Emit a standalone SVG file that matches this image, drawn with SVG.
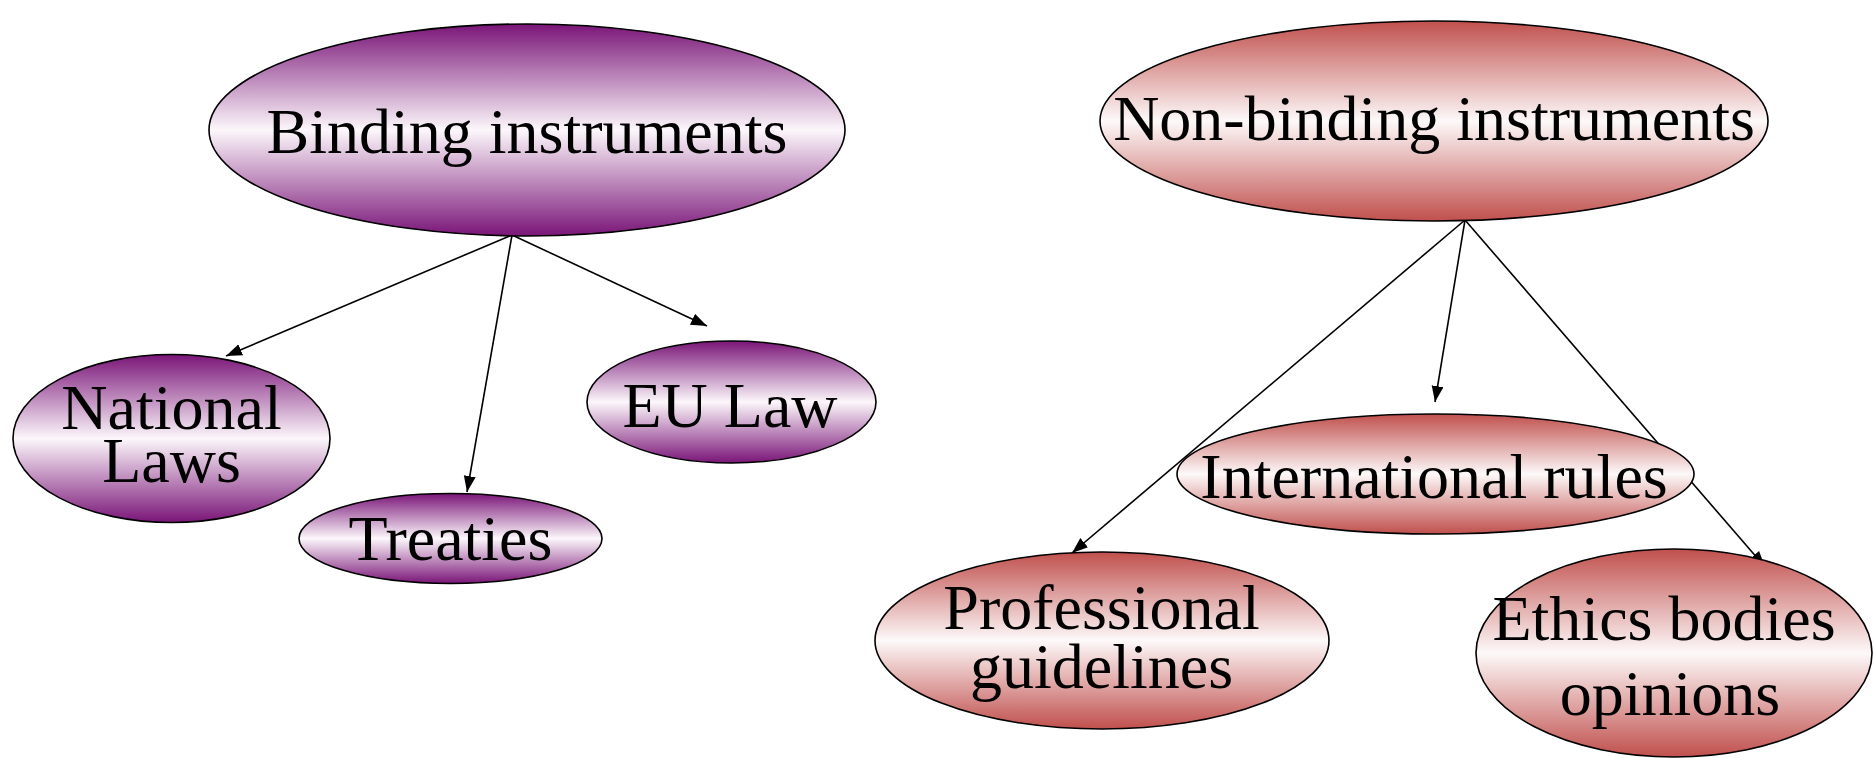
<svg xmlns="http://www.w3.org/2000/svg" width="1874" height="758" viewBox="0 0 1874 758">
<style>
.node ellipse{stroke:#000;stroke-width:1.6}
.purple{fill:url(#gp)}
.red{fill:url(#gr)}
text{font-family:"Liberation Serif","Times New Roman",serif;font-size:64px;fill:#000;text-anchor:middle}
.edge{stroke:#000;stroke-width:1.6;fill:none;marker-end:url(#ah)}
</style>
<defs>
<linearGradient id="gp" x1="0" y1="0" x2="0" y2="1">
<stop offset="0" stop-color="#7A1578"/>
<stop offset="0.5" stop-color="#FCF7FB"/>
<stop offset="1" stop-color="#7A1578"/>
</linearGradient>
<linearGradient id="gr" x1="0" y1="0" x2="0" y2="1">
<stop offset="0" stop-color="#C0504D"/>
<stop offset="0.5" stop-color="#FDF9F9"/>
<stop offset="1" stop-color="#C0504D"/>
</linearGradient>
<marker id="ah" markerUnits="userSpaceOnUse" markerWidth="18" markerHeight="14" refX="16" refY="6" orient="auto">
<path d="M0,0 L16,6 L0,12 z" fill="#000"/>
</marker>
</defs>
<g id="connectors">
<line class="edge" x1="512" y1="235" x2="226" y2="356"/>
<line class="edge" x1="512" y1="235" x2="467" y2="492"/>
<line class="edge" x1="512" y1="235" x2="707" y2="326"/>
<line class="edge" x1="1465" y1="220" x2="1072" y2="553"/>
<line class="edge" x1="1465" y1="220" x2="1435" y2="402"/>
<line class="edge" x1="1465" y1="220" x2="1765" y2="567"/>
</g>
<g id="binding" class="node">
<ellipse class="purple" cx="527" cy="130" rx="318" ry="106"/>
<text x="527" y="153">Binding instruments</text>
</g>
<g id="nonbinding" class="node">
<ellipse class="red" cx="1434" cy="121" rx="334" ry="100"/>
<text x="1434" y="140">Non-binding instruments</text>
</g>
<g id="national" class="node">
<ellipse class="purple" cx="171.5" cy="438.5" rx="158.5" ry="84"/>
<text x="171.5" y="429">National</text>
<text x="171.5" y="482">Laws</text>
</g>
<g id="treaties" class="node">
<ellipse class="purple" cx="450.5" cy="538.5" rx="151.5" ry="45"/>
<text x="450.5" y="560">Treaties</text>
</g>
<g id="eulaw" class="node">
<ellipse class="purple" cx="731.5" cy="402" rx="144.5" ry="61"/>
<text x="730" y="427">EU Law</text>
</g>
<g id="international" class="node">
<ellipse class="red" cx="1435.5" cy="474" rx="258.5" ry="60"/>
<text x="1434" y="498">International rules</text>
</g>
<g id="professional" class="node">
<ellipse class="red" cx="1102" cy="640.5" rx="227" ry="88.5"/>
<text x="1101.5" y="629">Professional</text>
<text x="1101.5" y="688">guidelines</text>
</g>
<g id="ethics" class="node">
<ellipse class="red" cx="1674" cy="653" rx="198" ry="104"/>
<text x="1664" y="640">Ethics bodies</text>
<text x="1670" y="715">opinions</text>
</g>
</svg>
